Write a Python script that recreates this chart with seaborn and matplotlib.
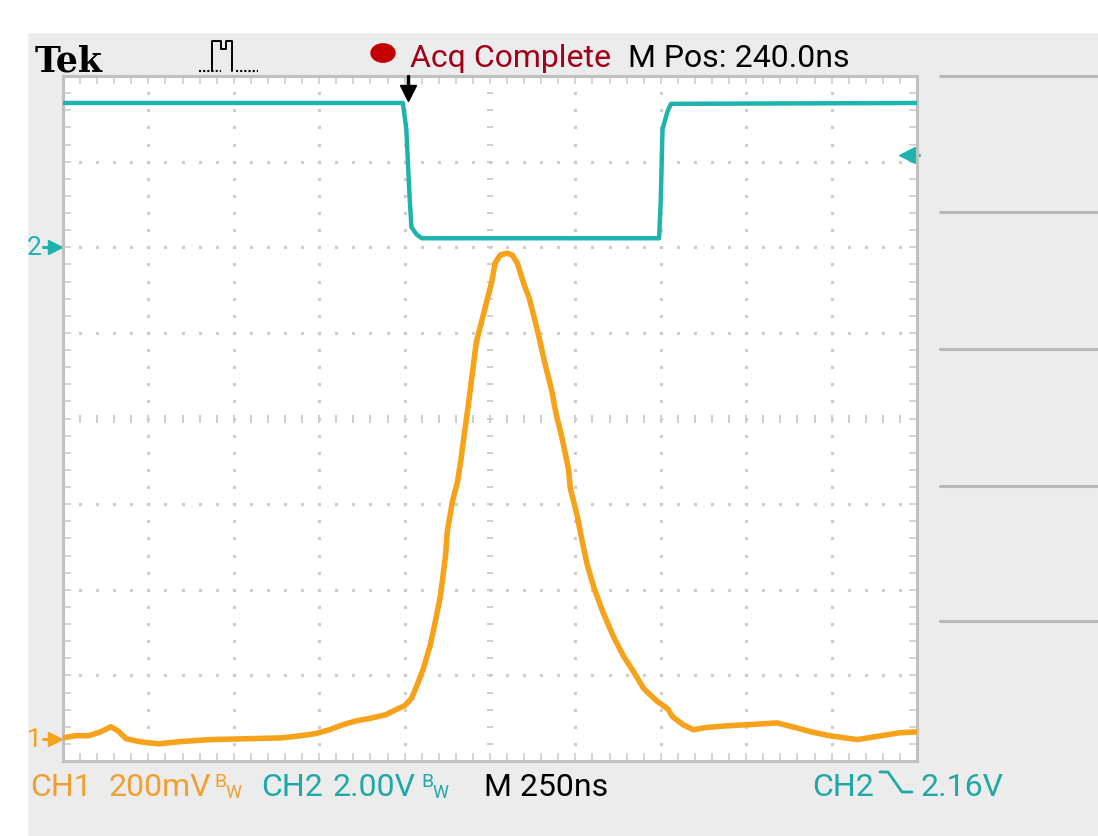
import numpy as np
import matplotlib
matplotlib.use("Agg")
import matplotlib.pyplot as plt
from matplotlib.lines import Line2D
from matplotlib.patches import Rectangle, Circle
import seaborn as sns

# CH1 (orange) - time in ns from left screen edge, mV above CH1 ground
ch1_t = [0, 35, 75, 110, 140, 160, 185, 225, 280, 340, 430, 535, 640, 695, 740,
         780, 820, 860, 895, 945, 980, 1000, 1020, 1035, 1055, 1075, 1090, 1105,
         1120, 1125, 1140, 1155, 1165, 1175, 1185, 1195, 1210, 1225, 1240, 1255,
         1265, 1280, 1300, 1315, 1330, 1350, 1365, 1380, 1395, 1410, 1430, 1445,
         1460, 1480, 1485, 1505, 1520, 1535, 1555, 1580, 1610, 1640, 1670, 1700,
         1740, 1770, 1785, 1815, 1845, 1880, 1940, 2010, 2090, 2145, 2190, 2245,
         2325, 2395, 2450, 2500]
ch1_mv = [2, 7, 7, 16, 28, 19, 0, -7, -12, -7, -2, 0, 2, 7, 12,
          21, 33, 42, 47, 56, 70, 77, 94, 122, 164, 218, 274, 334,
          428, 484, 554, 601, 653, 713, 770, 833, 926, 973, 1020, 1067,
          1111, 1130, 1134, 1130, 1111, 1060, 1029, 982, 933, 879, 816, 753,
          706, 629, 585, 522, 461, 405, 351, 297, 241, 194, 157, 117,
          87, 70, 51, 33, 21, 26, 30, 33, 37, 26, 16, 7,
          -2, 7, 14, 16]

# CH2 (teal) - V above CH2 ground
ch2_t = [0, 995, 1005, 1015, 1020, 1035, 1050, 1745, 1750, 1755, 1770, 1780, 2500]
ch2_v = [3.37, 3.37, 2.76, 1.12, 0.47, 0.30, 0.21, 0.21, 1.12, 2.76, 3.18, 3.35, 3.37]

ch1_scale = 200.0   # mV/div
ch2_scale = 2.0     # V/div
ch1_pos = -3.74     # div
ch2_pos = 2.0       # div
time_div = 250      # ns/div
trig_time = 1010    # ns
trig_level = 2.16   # V

orange = '#f7a21b'
teal = '#1fb3ae'
grid_c = '#cdcdcd'

sns.set_theme(style="white")
plt.rcParams['font.family'] = ['Roboto', 'DejaVu Sans']

W, H = 1098, 837
fig = plt.figure(figsize=(W / 100, H / 100), dpi=100, facecolor='#ececec')

def fx(px):
    return px / W

def fy(py):
    return 1 - py / H

# white strips at top and left of the screenshot
fig.add_artist(Rectangle((0, fy(33)), 1, 33 / H, transform=fig.transFigure,
                         color='white', zorder=0))
fig.add_artist(Rectangle((0, 0), fx(27), 1, transform=fig.transFigure,
                         color='white', zorder=0))

ax = fig.add_axes([fx(63), fy(762), (917 - 63) / W, (762 - 77) / H])
ax.set_facecolor('white')
ax.set_xlim(0, 10 * time_div)
ax.set_ylim(-4, 4)

# dotted graticule
sub = np.arange(0, 10 * time_div + 1, time_div / 5)
subv = np.arange(-4, 4.01, 0.2)
for k in range(1, 10):
    if k == 5:
        continue
    ax.plot([k * time_div] * len(subv), subv, ls='none', marker='s', ms=1.3,
            color=grid_c, zorder=1)
for j in range(-3, 4):
    if j == 0:
        continue
    ax.plot(sub, [j] * len(sub), ls='none', marker='s', ms=1.3, color=grid_c, zorder=1)
ax.plot([5 * time_div] * len(subv), subv, ls='none', marker='_', ms=5, mew=1.4,
        color=grid_c, zorder=1)
ax.plot(sub, [0] * len(sub), ls='none', marker='|', ms=6, mew=1.4, color=grid_c, zorder=1)

ax.set_xticks(np.arange(0, 10 * time_div + 1, time_div))
ax.set_xticks(sub, minor=True)
ax.set_yticks(np.arange(-4, 5, 1))
ax.set_yticks(subv, minor=True)
ax.tick_params(which='both', direction='in', top=True, right=True, bottom=True,
               left=True, length=6, width=1.2, color=grid_c,
               labelbottom=False, labelleft=False)
for s in ax.spines.values():
    s.set_color('#c0c0c0')
    s.set_linewidth(2.2)

# traces
sns.lineplot(x=ch2_t, y=np.array(ch2_v) / ch2_scale + ch2_pos, ax=ax, color=teal,
             lw=3.2, estimator=None, sort=False, zorder=3)
sns.lineplot(x=ch1_t, y=np.array(ch1_mv) / ch1_scale + ch1_pos, ax=ax, color=orange,
             lw=4.0, estimator=None, sort=False, zorder=4)
ax.set_xlabel('')
ax.set_ylabel('')

# ground markers
yt = ax.get_yaxis_transform()
for lbl, pos, c in [('2', ch2_pos, teal), ('1', ch1_pos, orange)]:
    ax.text(-0.042, pos, lbl, transform=yt, color=c, fontsize=19, va='center',
            ha='left', clip_on=False)
    ax.plot([-0.024, -0.002], [pos, pos], transform=yt, color=c, lw=2.2, clip_on=False)
    ax.plot([-0.009], [pos], transform=yt, marker='>', ms=10, color=c, clip_on=False)

# trigger position arrow
xt = ax.get_xaxis_transform()
ax.plot([trig_time, trig_time], [1.0, 0.975], transform=xt, color='black', lw=2.5,
        clip_on=False, zorder=6)
ax.plot([trig_time], [0.975], transform=xt, marker='v', ms=11, color='black',
        clip_on=False, zorder=6)
# trigger level arrow
tl = trig_level / ch2_scale + ch2_pos
ax.plot([0.985, 1.002], [tl, tl], transform=yt, color=teal, lw=2.2, clip_on=False)
ax.plot([0.988], [tl], transform=yt, marker='<', ms=11, color=teal, clip_on=False)

# right-side menu separators
for py in [77, 213, 350, 487, 622]:
    fig.add_artist(Line2D([fx(940), fx(1097)], [fy(py), fy(py)], color='#b8b8b8',
                          lw=2.2, transform=fig.transFigure))

# header
fig.text(fx(35), fy(72), 'Tek', fontsize=25, fontweight='bold', family='DejaVu Serif',
         color='black', va='baseline')
fig.add_artist(Line2D([fx(p) for p in [212, 212, 221, 221, 226, 226, 232, 232]],
                      [fy(p) for p in [72, 42, 42, 50, 50, 42, 42, 72]],
                      color='black', lw=1.4, transform=fig.transFigure))
for x0 in [199, 236]:
    fig.add_artist(Line2D([fx(x0), fx(x0 + 22)], [fy(72), fy(72)], color='black',
                          lw=1.5, ls=(0, (1, 1)), transform=fig.transFigure))
fig.add_artist(Circle((fx(383), fy(54)), 12 / W, transform=fig.transFigure,
                      color='#c40000'))
hdr = dict(fontsize=23, va='baseline')
fig.text(fx(410), fy(67), 'Acq Complete', color='#a0001a', **hdr)
fig.text(fx(628), fy(67), 'M Pos: 240.0ns', color='black', **hdr)

# footer
o_txt = '#f0a030'
t_txt = '#1ea8a8'
fig.text(fx(30), fy(796), 'CH1', color=o_txt, **hdr)
fig.text(fx(109), fy(796), '200mV', color=o_txt, **hdr)
fig.text(fx(214), fy(787), 'B', color=o_txt, fontsize=14)
fig.text(fx(225), fy(798), 'W', color=o_txt, fontsize=13)
fig.text(fx(261), fy(796), 'CH2', color=t_txt, **hdr)
fig.text(fx(333), fy(796), '2.00V', color=t_txt, **hdr)
fig.text(fx(421), fy(787), 'B', color=t_txt, fontsize=14)
fig.text(fx(432), fy(798), 'W', color=t_txt, fontsize=13)
fig.text(fx(484), fy(796), 'M 250ns', color='black', **hdr)
fig.text(fx(812), fy(796), 'CH2', color=t_txt, **hdr)
fig.add_artist(Line2D([fx(p) for p in [880, 888, 902, 912]],
                      [fy(p) for p in [773, 773, 793, 793]],
                      color=t_txt, lw=2, transform=fig.transFigure))
fig.text(fx(920), fy(796), '2.16V', color=t_txt, **hdr)

fig.savefig('out.png', dpi=100, facecolor=fig.get_facecolor())
